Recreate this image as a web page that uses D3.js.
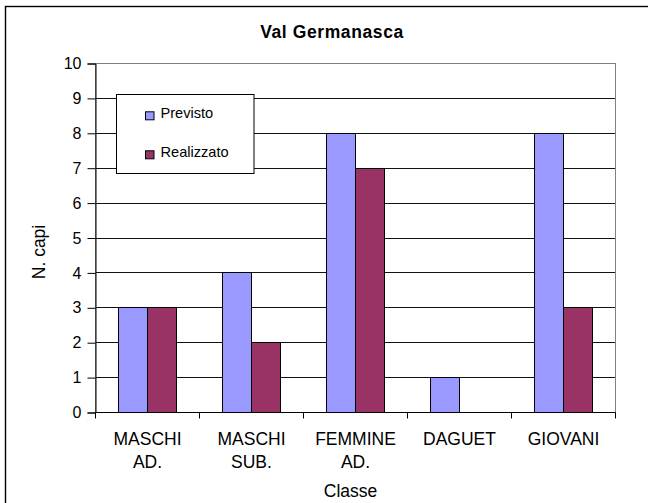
<!DOCTYPE html>
<html>
<head>
<meta charset="utf-8">
<script src="https://cdn.jsdelivr.net/npm/d3@7"></script>
<style>
  body { margin: 0; background: #fff; }
  text { font-family: "Liberation Sans", Arial, sans-serif; fill: #000; }
</style>
</head>
<body>
<svg id="chart" width="648" height="503"></svg>
<script>
// data
var categories = [["MASCHI", "AD."], ["MASCHI", "SUB."], ["FEMMINE", "AD."], ["DAGUET"], ["GIOVANI"]];
var seriesNames = ["Previsto", "Realizzato"];
var previsto = [3, 4, 8, 1, 8];
var realizzato = [3, 2, 7, 0, 3];
var yTicks = [0, 1, 2, 3, 4, 5, 6, 7, 8, 9, 10];
var colors = ["#9999ff", "#993366"];

var svg = d3.select("#chart");
var plot = { left: 95.5, top: 63.5, right: 615.5, bottom: 412.5 };

// outer frame (runs off the right / bottom edge)
svg.append("rect").attr("x", 5.5).attr("y", 6.5).attr("width", 700).attr("height", 600)
  .attr("fill", "#fff").attr("stroke", "#000").attr("stroke-width", 1.4);

var x0 = d3.scaleBand().domain(d3.range(categories.length)).range([plot.left, plot.right]);
var x1 = d3.scaleBand().domain(seriesNames).range([0, x0.bandwidth()]).paddingInner(0).paddingOuter(0.775);
var y = d3.scaleLinear().domain([0, 10]).range([plot.bottom, plot.top]);

// gridlines
svg.append("g").selectAll("line").data(yTicks.slice(1)).join("line")
  .attr("x1", plot.left).attr("x2", plot.right)
  .attr("y1", d => y(d)).attr("y2", d => y(d))
  .attr("stroke", "#111").attr("stroke-width", 1).attr("shape-rendering", "crispEdges");

// plot border
svg.append("rect").attr("x", plot.left).attr("y", plot.top)
  .attr("width", plot.right - plot.left).attr("height", plot.bottom - plot.top)
  .attr("fill", "none").attr("stroke", "#808080").attr("stroke-width", 1).attr("shape-rendering", "crispEdges");

// bars
var groups = svg.append("g").selectAll("g").data(categories).join("g")
  .attr("transform", (d, i) => "translate(" + x0(i) + ",0)");
groups.selectAll("rect").data((d, i) => [previsto[i], realizzato[i]].map((v, k) => ({ v: v, k: k })))
  .join("rect")
  .filter(d => d.v > 0)
  .attr("x", d => x1(seriesNames[d.k]))
  .attr("y", d => y(d.v))
  .attr("width", x1.bandwidth())
  .attr("height", d => y(0) - y(d.v))
  .attr("fill", d => colors[d.k])
  .attr("stroke", "#000").attr("stroke-width", 1).attr("shape-rendering", "crispEdges");

// y axis
var yAxis = svg.append("g").attr("transform", "translate(" + plot.left + ",0)")
  .call(d3.axisLeft(y).tickValues(yTicks).tickSize(8).tickPadding(6));
yAxis.select(".domain").attr("stroke", "#000");
yAxis.selectAll("line").attr("stroke", "#000");
yAxis.selectAll("text").attr("font-size", 16).attr("fill", "#000")
  .attr("font-family", "Liberation Sans, Arial, sans-serif");

// x axis
var xAxis = svg.append("g").attr("transform", "translate(0," + plot.bottom + ")");
xAxis.append("line").attr("x1", plot.left).attr("x2", plot.right).attr("stroke", "#000");
xAxis.selectAll("line.tick").data(d3.range(categories.length + 1)).join("line")
  .attr("class", "tick")
  .attr("x1", i => plot.left + i * x0.step()).attr("x2", i => plot.left + i * x0.step())
  .attr("y1", 0).attr("y2", 6).attr("stroke", "#000");
xAxis.selectAll("text").data(categories).join("text")
  .attr("x", (d, i) => x0(i) + x0.bandwidth() / 2)
  .attr("y", 32)
  .attr("text-anchor", "middle").attr("font-size", 17.5)
  .selectAll("tspan").data(d => d).join("tspan")
  .attr("x", function () { return d3.select(this.parentNode).attr("x"); })
  .attr("dy", (d, j) => j === 0 ? 0 : 23.4)
  .text(d => d);

// titles
svg.append("text").attr("x", 332).attr("y", 37.7).attr("text-anchor", "middle")
  .attr("font-size", 17.5).attr("font-weight", "bold").attr("letter-spacing", 0.6).text("Val Germanasca");
svg.append("text").attr("x", 350.5).attr("y", 496.7).attr("text-anchor", "middle")
  .attr("font-size", 17.5).text("Classe");
svg.append("text").attr("transform", "translate(45,252) rotate(-90)").attr("text-anchor", "middle")
  .attr("font-size", 17.5).text("N. capi");

// legend
var leg = svg.append("g");
leg.append("rect").attr("x", 116.5).attr("y", 94.5).attr("width", 137.5).attr("height", 79)
  .attr("fill", "#fff").attr("stroke", "#000").attr("stroke-width", 1);
seriesNames.forEach(function (name, k) {
  var base = 118.3 + k * 39;
  leg.append("rect").attr("x", 145.5).attr("y", base - 6.5).attr("width", 8.5).attr("height", 8)
    .attr("fill", colors[k]).attr("stroke", "#000");
  leg.append("text").attr("x", 160.5).attr("y", base).attr("font-size", 14.6).text(name);
});
</script>
</body>
</html>
